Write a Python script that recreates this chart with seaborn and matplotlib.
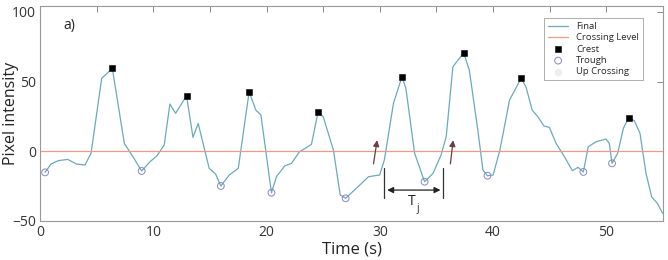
import numpy as np
import pandas as pd
import seaborn as sns
import matplotlib.pyplot as plt
from matplotlib.ticker import MultipleLocator, FuncFormatter

# signal
time_s = [0.44, 0.97, 1.6, 2.44, 3.2, 3.97, 4.5, 5.44, 6.38, 7.44, 8.2, 8.97, 9.7, 10.3,
          10.96, 11.46, 11.97, 12.93, 13.5, 13.96, 14.93, 15.5, 15.96, 16.7, 17.5, 18.46,
          19.05, 19.5, 20.43, 20.87, 21.6, 22.2, 22.9, 23.4, 23.96, 24.55, 25.0, 25.9,
          26.5, 26.98, 28.07, 29.0, 29.98, 30.4, 31.2, 31.95, 32.3, 33.07, 33.95, 34.7,
          35.4, 35.86, 36.45, 37.4, 37.9, 38.65, 39.1, 39.5, 40.0, 40.6, 41.45, 42.47,
          42.9, 43.45, 43.95, 44.5, 44.97, 45.56, 46.3, 47.0, 47.5, 47.97, 48.4, 49.1,
          49.97, 50.26, 50.5, 51.0, 51.5, 51.97, 52.47, 52.97, 53.5, 54.0, 54.5, 54.97]
intensity = [-15.1, -9.1, -6.7, -5.8, -9.1, -9.8, -1.4, 52.4, 59.5, 5.7, -3.9, -14.1, -7.5, -3.4,
             4.5, 33.9, 27.3, 39.9, 10.0, 20.0, -12.2, -16.3, -24.9, -17.0, -12.2, 42.8,
             29.6, 26.0, -29.7, -18.2, -10.5, -8.6, -0.3, 2.1, 5.0, 28.4, 24.8, 0.9,
             -31.3, -33.7, -25.4, -18.2, -17.0, -6.2, 34.4, 53.5, 45.2, -1.4, -21.8, -15.8,
             -2.7, 10.5, 60.7, 70.7, 58.3, 15.3, -13.4, -17.5, -17.0, 0.9, 36.8, 52.4,
             46.3, 29.6, 24.8, 18.1, 17.2, 5.7, -3.9, -13.9, -11.5, -14.8, 3.3, 6.9,
             8.8, 5.7, -8.6, -1.4, 16.5, 24.1, 22.0, 12.9, -15.8, -32.6, -37.3, -44.5]

crest_t = [6.38, 12.93, 18.46, 24.55, 31.95, 37.4, 42.47, 51.97]
crest_v = [59.5, 39.9, 42.8, 28.4, 53.5, 70.7, 52.4, 24.1]
trough_t = [0.44, 8.97, 15.96, 20.43, 26.98, 33.95, 39.5, 47.97, 50.5]
trough_v = [-15.1, -14.1, -24.9, -29.7, -33.7, -21.8, -17.5, -14.8, -8.6]
crossing_level = 0

sig = pd.DataFrame({'t': time_s, 'v': intensity})
crest = pd.DataFrame({'t': crest_t, 'v': crest_v})
trough = pd.DataFrame({'t': trough_t, 'v': trough_v})

sns.set_theme(style="white")
plt.rcParams['font.family'] = ['Open Sans', 'DejaVu Sans']

fig = plt.figure(figsize=(6.68, 2.6), dpi=100)
ax = fig.add_axes([0.06, 0.15, 0.9325, 0.827])

sns.lineplot(data=sig, x='t', y='v', color='#6aaabb', lw=0.9, ax=ax, label='Final')
ax.axhline(crossing_level, color='#ec9a84', lw=0.9, label='Crossing Level')
sns.scatterplot(data=crest, x='t', y='v', marker='s', s=24, color='black',
                edgecolor='black', ax=ax, label='Crest', zorder=4)
sns.scatterplot(data=trough, x='t', y='v', marker='o', s=24, facecolor='none',
                edgecolor='#8a86c4', linewidth=0.7, ax=ax, label='Trough', zorder=4)
ax.scatter([], [], marker='o', s=20, color='#eeeeee', label='Up Crossing')

# annotations
for x0, x1 in [(29.4, 29.8), (36.2, 36.5)]:
    ax.annotate('', xy=(x1, 10), xytext=(x0, -11),
                arrowprops=dict(arrowstyle='-|>', color='#6b4040', lw=0.9,
                                mutation_scale=9))
for xv in [30.4, 35.6]:
    ax.plot([xv, xv], [-12.2, -33.7], color='#333333', lw=0.9)
ax.annotate('', xy=(30.4, -27.8), xytext=(35.6, -27.8),
            arrowprops=dict(arrowstyle='<|-|>', color='#222222', lw=0.9, mutation_scale=9))
ax.text(32.8, -36, 'T', fontsize=10, ha='center', va='center', color='#222222')
ax.text(33.35, -41, 'j', fontsize=7, ha='center', va='center', color='#222222')
ax.text(2.6, 90, 'a)', fontsize=10, ha='center', va='center', color='#222222')

ax.set_xlim(0, 55)
ax.set_ylim(-50, 104.3)
ax.xaxis.set_major_locator(MultipleLocator(5))
ax.xaxis.set_major_formatter(FuncFormatter(lambda v, p: f'{int(v)}' if v % 10 == 0 else ''))
ax.set_yticks([-50, 0, 50, 100])
ax.tick_params(direction='in', length=4, width=0.7, color='#888888', labelsize=10,
               top=True, right=True, pad=3, labelcolor='#333333')
for sp in ax.spines.values():
    sp.set_color('#999999')
    sp.set_linewidth(0.8)
ax.set_xlabel('Time (s)', fontsize=12, labelpad=1, color='#222222')
ax.set_ylabel('Pixel intensity', fontsize=11.5, color='#222222', va='center')
ax.yaxis.set_label_coords(-0.047, 0.5)

leg = ax.legend(loc='upper right', fontsize=6.8, frameon=True, fancybox=False,
                edgecolor='#888888', borderpad=0.4, labelspacing=0.25, handlelength=2.2,
                bbox_to_anchor=(0.975, 0.965))
leg.get_frame().set_linewidth(0.6)

fig.savefig('out.png', dpi=100)
